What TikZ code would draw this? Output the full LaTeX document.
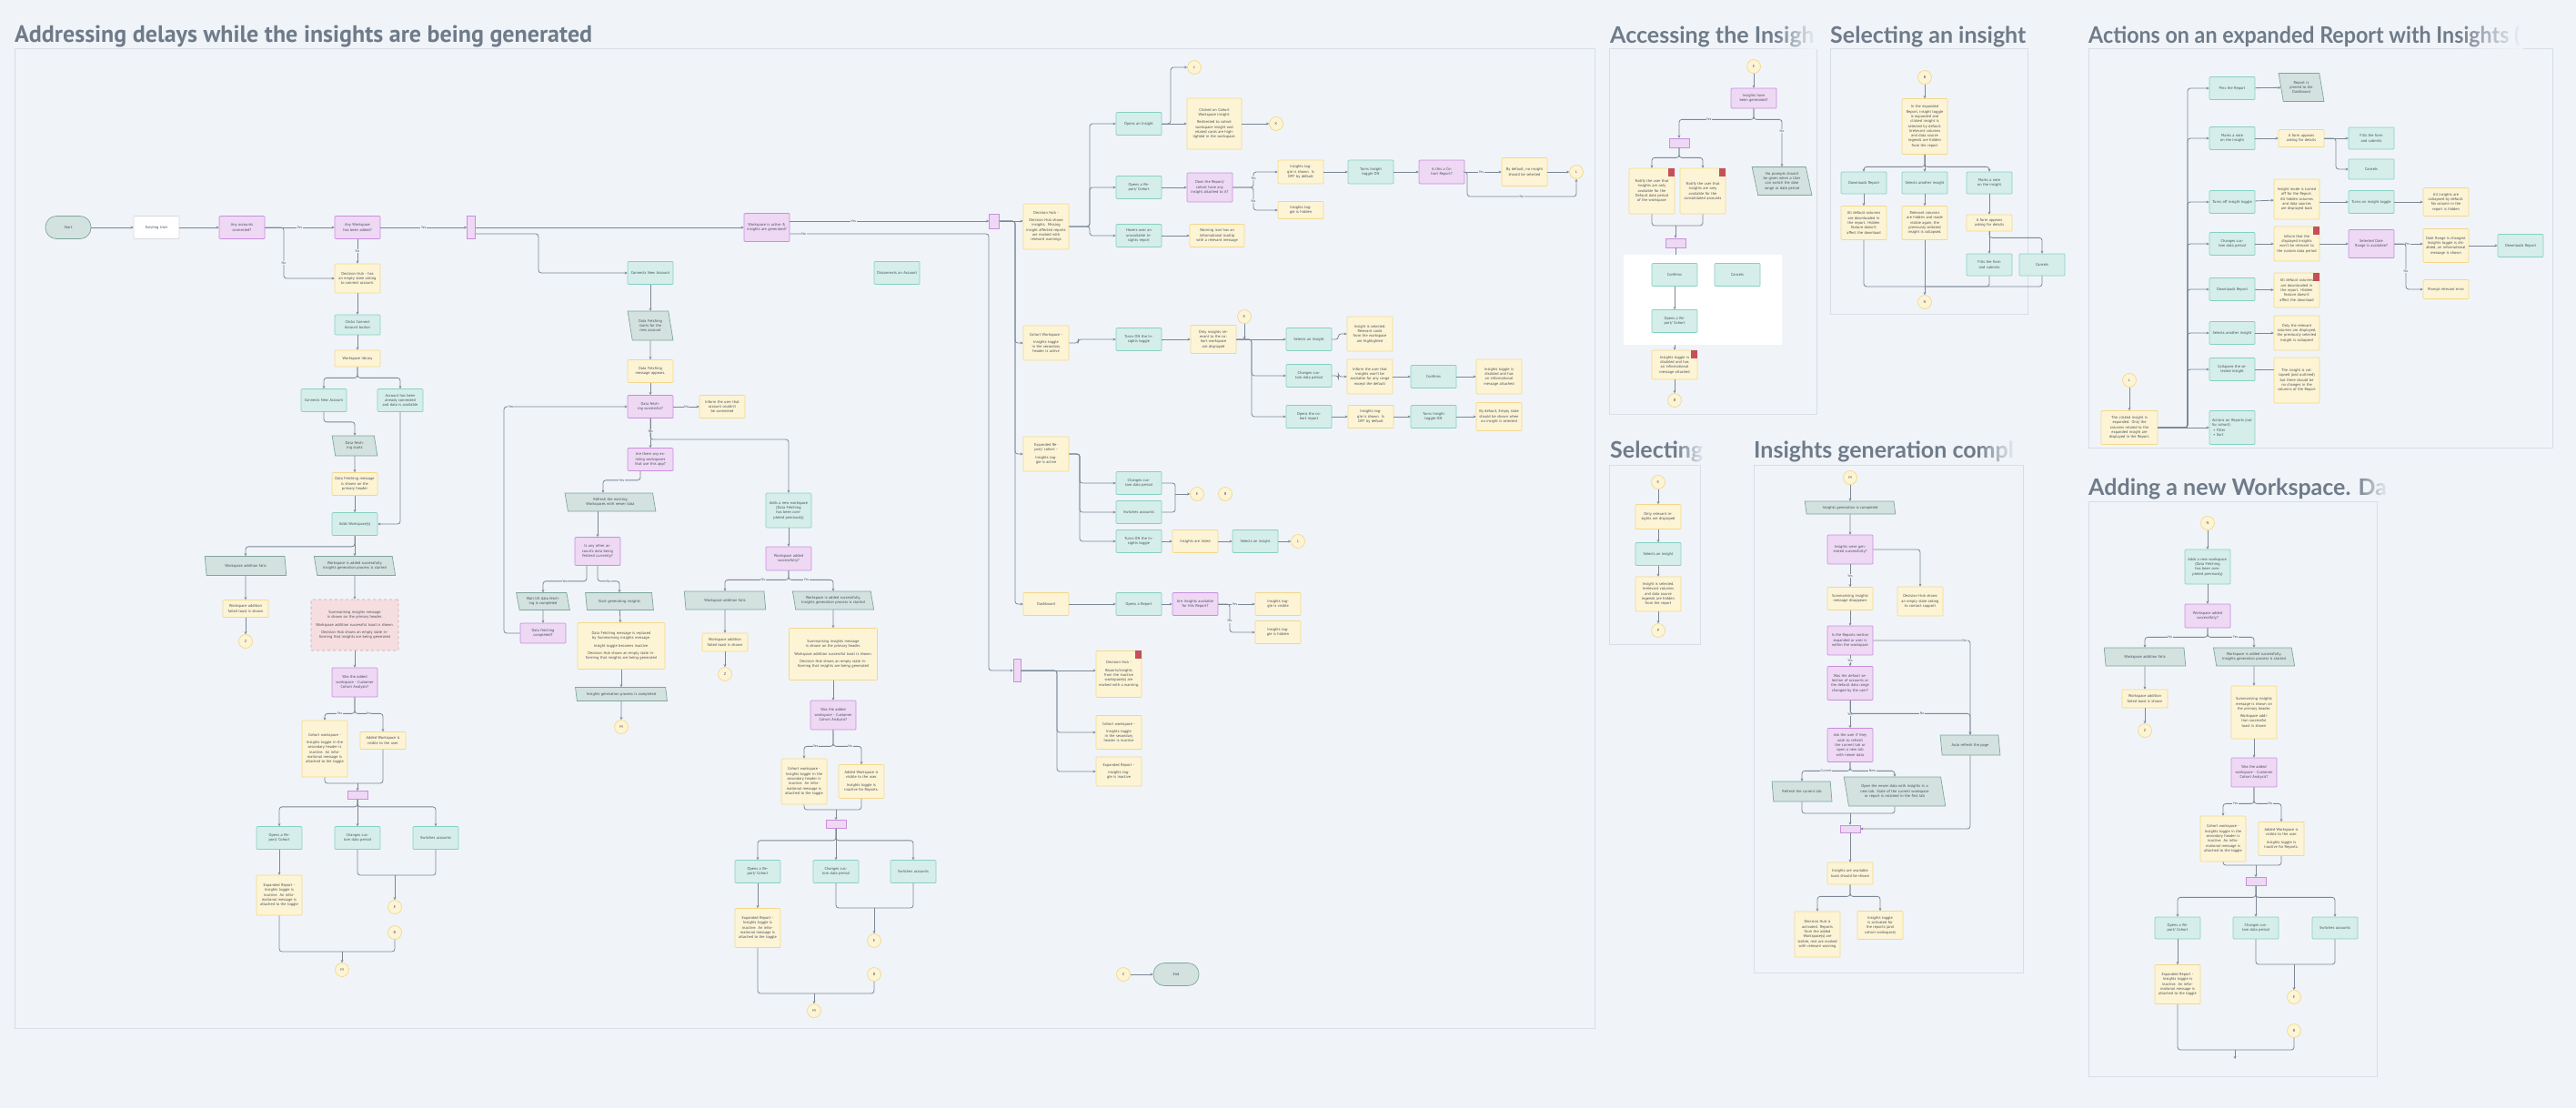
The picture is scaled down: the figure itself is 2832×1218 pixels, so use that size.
\documentclass[tikz,border=0pt]{standalone}
\usepackage{fontspec}
\setmainfont{PT Sans}
\newfontfamily\titlefontA{PT Sans}
\newfontfamily\titlefontB{Lato}
\usepackage{graphicx}
\usetikzlibrary{shapes.geometric, arrows.meta, calc, fadings}
\definecolor{bgc}{HTML}{F0F4F9}
\definecolor{panelb}{HTML}{D9DEE5}
\definecolor{tealf}{HTML}{D5EEEA}
\definecolor{tealb}{HTML}{86D0C3}
\definecolor{yelf}{HTML}{FDF4D5}
\definecolor{yelb}{HTML}{F3D88A}
\definecolor{purf}{HTML}{EED8F4}
\definecolor{purb}{HTML}{C98EDD}
\definecolor{paraf}{HTML}{D3E1DF}
\definecolor{parab}{HTML}{7DA79F}
\definecolor{pinkf}{HTML}{F6DDDF}
\definecolor{pinkb}{HTML}{D99CA3}
\definecolor{edgec}{HTML}{7B8794}
\definecolor{txtc}{HTML}{47505B}
\definecolor{titlec}{HTML}{6F7B89}
\definecolor{redm}{HTML}{C4505C}
\definecolor{graylb}{HTML}{D5DAE0}
\newcommand{\nodefnt}{\fontsize{4.3}{5.3}\selectfont}
\newcommand{\lblfnt}{\fontsize{3.8}{4.2}\selectfont}
\newcommand{\redmark}[1]{\fill[redm] ($(#1.north east)+(-7,0)$) rectangle ++(7,9);}
\tikzset{
 base/.style={draw, line width=0.7pt, rounded corners=1pt, align=center, text width=44pt, inner xsep=3pt, inner ysep=1.5pt, minimum height=25pt, font=\nodefnt, text=txtc},
 tb/.style={base, fill=tealf, draw=tealb},
 yb/.style={base, fill=yelf, draw=yelb},
 pb/.style={base, fill=purf, draw=purb},
 wb/.style={base, fill=white, draw=graylb},
 pk/.style={base, fill=pinkf, draw=pinkb, dashed},
 term/.style={base, fill=paraf, draw=parab, rounded corners=12pt},
 para/.style={draw=parab, fill=paraf, line width=0.7pt, trapezium, trapezium left angle=105, trapezium right angle=75, trapezium stretches=true, align=center, font=\nodefnt, text=txtc, minimum width=50pt, minimum height=22pt, inner xsep=1pt, inner ysep=1pt, text width=34pt},
 circ/.style={circle, draw=yelb, fill=yelf, line width=0.7pt, minimum size=15pt, inner sep=0pt, font=\nodefnt, text=txtc},
 bar/.style={draw=purb, fill=purf, line width=0.7pt, inner sep=0pt, minimum width=22pt, minimum height=9pt},
 vbar/.style={bar, minimum width=9pt, minimum height=25pt},
 ar/.style={draw=edgec, line width=0.8pt, rounded corners=3pt, -{Stealth[length=3pt,width=3pt]}},
 ln/.style={draw=edgec, line width=0.8pt, rounded corners=3pt},
 lb/.style={font=\lblfnt, text=txtc, fill=bgc, inner sep=0.6pt, rounded corners=0pt},
 hh/.style={minimum height=#1pt},
 panel/.style={draw=panelb, line width=1pt, fill=bgc},
 ttlA/.style={anchor=base west, inner sep=0pt, text=titlec, font=\titlefontA\bfseries\fontsize{26}{28}\selectfont},
 ttlB/.style={anchor=base west, inner sep=0pt, text=titlec, font=\titlefontB\bfseries\fontsize{25}{28}\selectfont},
}
\begin{document}
\begin{tikzpicture}[x=1pt, y=-1pt]
\useasboundingbox (0,0) rectangle (2832,1218);
\fill[bgc] (0,0) rectangle (2832,1218);
% ---------------- panels & titles
\draw[panel] (16,53) rectangle (1753,1130);
\draw[panel] (1769,53) rectangle (1997,455);
\draw[panel] (2012,53) rectangle (2229,345);
\draw[panel] (2296,53) rectangle (2806,492);
\draw[panel] (1769,511) rectangle (1869,708);
\draw[panel] (1928,511) rectangle (2224,1069);
\draw[panel] (2296,551) rectangle (2613,1183);
\node[ttlA] (t1) at (16,46) {Addressing delays while the insights are being generated};
\node[ttlB] (t2) at (1770,47) {Accessing the Insigh};
\node[ttlB] (t3) at (2012,47) {Selecting an insight};
\node[ttlB] (t4) at (2296,47) {\scalebox{0.93}[1]{Actions on an expanded Report with Insights (}};
\node[ttlB] (t5) at (1770,503) {Selecting};
\node[ttlB] (t6) at (1928,503) {Insights generation compl};
\node[ttlB] (t7) at (2296,544) {Adding a new Workspace. Da};
\foreach \t/\w in {t2/45,t4/70,t5/30,t6/40,t7/35}{
  \fill[bgc, path fading=west] ($(\t.north east)+(-\w,-2)$) rectangle ($(\t.south east)+(3,2)$);
}
% ---------------- main: left column
\node[term] (a1) at (75,250) {Start};
\node[wb] (a2) at (172,250) {Existing User};
\node[pb] (a3) at (266,250) {Any accounts connected?};
\node[pb] (a4) at (393,250) {Any Workspace has been added?};
\node[yb,hh=32] (a5) at (393,306) {Decision Hub - has an empty state asking to connect account.};
\node[tb,hh=22] (a6) at (393,357) {Clicks Connect Account button};
\node[yb,hh=18] (a7) at (393,394) {Workspace library};
\node[tb] (a8) at (356,440) {Connects New Account};
\node[tb] (a9) at (440,440) {Account has been already connected and data is available};
\node[para] (a10) at (390,490) {Data fetching starts};
\node[yb] (a11) at (390,532) {Data Fetching message is shown on the primary header};
\node[tb] (a12) at (390,576) {Adds Workspace(s)};
\node[para, minimum width=90pt, text width=72pt, hh=21] (a13) at (270,622) {Workspace addition fails};
\node[para, minimum width=90pt, text width=72pt, hh=21] (a14) at (390,622) {Workspace is added successfully. Insights generation process is started};
\node[yb,hh=19] (a15) at (270,669) {Workspace addition failed toast is shown};
\node[circ] (a16) at (270,705) {Z};
\node[pk, text width=90pt, hh=56] (a17) at (390,687) {Summarising insights message is shown on the primary header.\\[3pt] Workspace addition successful toast is shown.\\[3pt] Decision Hub shows an empty state informing that insights are being generated};
\node[pb,hh=32] (a18) at (390,750) {Was the added workspace - Customer Cohort Analysis?};
\node[yb,hh=62] (a19) at (357,823) {Cohort workspace -\\[3pt] Insights toggle in the secondary header is inactive. An informational message is attached to the toggle};
\node[yb,hh=19] (a20) at (421,814) {Added Workspace is visible to the user.};
\node[bar] (a21) at (393,874) {};
\node[tb] (a22) at (307,921) {Opens a Report/ Cohort};
\node[tb] (a23) at (393,921) {Changes custom data period};
\node[tb] (a24) at (479,921) {Switches accounts};
\node[yb,hh=44] (a25) at (307,984) {Expanded Report - Insights toggle is inactive. An informational message is attached to the toggle};
\node[circ] (a26) at (434,997) {E};
\node[circ] (a27) at (434,1025) {B};
\node[circ] (a28) at (376,1066) {M};
\node[vbar] (bar1) at (518,250) {};
\draw[ar] (a1) -- (a2);
\draw[ar] (a2) -- (a3);
\draw[ar] (a3) -- node[lb]{Yes} (a4);
\draw[ar] (a3.east) -- (312,250) |- node[lb,pos=0.35]{No} (a5.west);
\draw[ar] (a4) -- node[lb]{No} (a5);
\draw[ar] (a4) -- node[lb,pos=0.5]{Yes} (bar1);
\draw[ar] (a5) -- (a6);
\draw[ar] (a6) -- (a7);
\draw[ar] (a7.south) -- ++(0,12) -| (a8.north);
\draw[ar] (a7.south) -- ++(0,12) -| (a9.north);
\draw[ar] (a8.south) -- ++(0,11) -| (a10.north);
\draw[ar] (a10) -- (a11);
\draw[ar] (a11) -- (a12);
\draw[ar] (a9.south) |- (a12.east);
\draw[ar] (a12.south) -- ++(0,12) -| (a13.north);
\draw[ar] (a12) -- (a14);
\draw[ar] (a13) -- (a15);
\draw[ar] (a15) -- (a16);
\draw[ar] (a14) -- (a17);
\draw[ar] (a17) -- (a18);
\draw[ar] (a18.south) -- ++(0,18) -| node[lb,pos=0.25]{Yes} (a19.north);
\draw[ar] (a18.south) -- ++(0,18) -| node[lb,pos=0.25]{No} (a20.north);
\coordinate (m1) at (393,861);
\draw[ln] (a19.south) |- (m1);
\draw[ln] (a20.south) |- (m1);
\draw[ar] (m1) -- (a21.north);
\draw[ar] (a21.south) -- ++(0,8) -| (a22.north);
\draw[ar] (a21.south) -- (a23.north);
\draw[ar] (a21.south) -- ++(0,8) -| (a24.north);
\draw[ar] (a22) -- (a25);
\coordinate (m2) at (434,962);
\draw[ln] (a23.south) |- (m2);
\draw[ln] (a24.south) |- (m2);
\draw[ar] (m2) -- (a26.north);
\coordinate (m3) at (376,1046);
\draw[ln] (a25.south) |- (m3);
\draw[ln] (a27.south) |- (m3);
\draw[ar] (m3) -- (a28.north);
% ---------------- main: middle column
\node[tb] (b1) at (715,300) {Connects New Account};
\node[para, hh=32, text width=30pt] (b2) at (715,358) {Data Fetching starts for the new account};
\node[yb] (b3) at (715,408) {Data Fetching message appears.};
\node[pb] (b4) at (715,447) {Data fetching successful?};
\node[yb] (b5) at (794,447) {Inform the user that account couldn't be connected};
\node[pb] (b6) at (715,505) {Are there any existing workspaces that use this app?};
\node[tb,hh=38] (b7) at (867,561) {Adds a new workspace (Data Fetching has been completed previously)};
\node[para, minimum width=100pt, text width=82pt, hh=20] (b8) at (671,552) {Refresh the existing Workspaces with newer data};
\node[pb,hh=31] (b9) at (657,606) {Is any other account's data being fetched currently?};
\node[para, minimum width=59pt, text width=42pt, hh=19] (b10) at (597,661) {Wait till data fetching is completed};
\node[para, minimum width=75pt, text width=58pt, hh=19] (b11) at (681,661) {Start generating insights};
\node[pb,hh=22] (b12) at (597,696) {Data fetching completed?};
\node[yb, text width=90pt, hh=51] (b13) at (683,710) {Data Fetching message is replaced by Summarising insights message.\\[3pt] Insight toggle becomes inactive.\\[3pt] Decision Hub shows an empty state informing that insights are being generated};
\node[para, minimum width=101pt, text width=84pt, hh=15] (b14) at (683,763) {Insights generation process is completed};
\node[circ] (b15) at (683,799) {M};
\node[pb,hh=26] (b16) at (867,614) {Workspace added successfully?};
\node[para, minimum width=90pt, text width=72pt, hh=20] (b17) at (797,660) {Workspace addition fails};
\node[para, minimum width=90pt, text width=72pt, hh=20] (b18) at (916,660) {Workspace is added successfully. Insights generation process is started};
\node[yb,hh=20] (b19) at (797,706) {Workspace addition failed toast is shown};
\node[circ] (b20) at (797,741) {Z};
\node[yb, text width=91pt, hh=57] (b21) at (916,719) {Summarising insights message is shown on the primary header.\\[3pt] Workspace addition successful toast is shown.\\[3pt] Decision Hub shows an empty state informing that insights are being generated};
\node[pb,hh=32] (b22) at (916,786) {Was the added workspace - Customer Cohort Analysis?};
\node[yb,hh=50] (b23) at (884,859) {Cohort workspace - Insights toggle in the secondary header is inactive. An informational message is attached to the toggle};
\node[yb,hh=37] (b24) at (947,859) {Added Workspace is visible to the user.\\[3pt] Insights toggle is inactive for Reports.};
\node[bar] (b25) at (919,906) {};
\node[tb] (b26) at (833,958) {Opens a Report/ Cohort};
\node[tb] (b27) at (919,958) {Changes custom data period};
\node[tb] (b28) at (1004,958) {Switches accounts};
\node[yb,hh=43] (b29) at (833,1020) {Expanded Report - Insights toggle is inactive. An informational message is attached to the toggle};
\node[circ] (b30) at (961,1034) {E};
\node[circ] (b31) at (961,1071) {B};
\node[circ] (b32) at (895,1111) {M};
\node[tb] (disc) at (986,300) {Disconnects an Account};
\node[pb,hh=31] (wsact) at (843,250) {Workspace is active \& insights are generated?};
\draw[ar] (bar1) -- (wsact);
\draw[ar] ($(bar1.east)+(0,7)$) -- (592,257) |- (b1.west);
\draw[ar] (b1) -- (b2);
\draw[ar] (b2) -- (b3);
\draw[ar] (b3) -- (b4);
\draw[ar] (b4) -- node[lb]{No} (b5);
\draw[ar] (b4) -- node[lb,pos=0.45]{Yes} (b6);
\draw[ar] (b4.south) -- (715,483) -| (b7.north);
\draw[ar] ($(b6.south)+(-11,0)$) -- ++(0,10) -| node[lb,pos=0.25]{Yes} ($(b8.north)+(-8,0)$);
\draw[ar] (b8.south -| b9.north) -- (b9.north);
\draw[ar] ($(b9.south)+(-12,0)$) -- ++(0,17) -| node[lb,pos=0.25]{Yes} (b10.north);
\draw[ar] (b9.south) -- ++(0,17) -| node[lb,pos=0.25]{No} (b11.north);
\draw[ar] (b10) -- (b12);
\draw[ar] (b12.west) -- (554,696) |- node[lb,pos=0.53]{Yes} (b4.west);
\draw[ar] (b11) -- (b13);
\draw[ar] (b13) -- (b14);
\draw[ar] (b14) -- (b15);
\draw[ar] (b7) -- (b16);
\draw[ar] (b16.south) -- ++(0,10) -| node[lb,pos=0.2]{No} (b17.north);
\draw[ar] (b16.south) -- ++(0,10) -| node[lb,pos=0.2]{Yes} (b18.north);
\draw[ar] (b17) -- (b19);
\draw[ar] (b19) -- (b20);
\draw[ar] (b18) -- (b21);
\draw[ar] (b21) -- (b22);
\draw[ar] (b22.south) -- ++(0,18) -| node[lb,pos=0.3]{Yes} (b23.north);
\draw[ar] (b22.south) -- ++(0,18) -| node[lb,pos=0.3]{No} (b24.north);
\coordinate (m4) at (919,890);
\draw[ln] (b23.south) |- (m4);
\draw[ln] (b24.south) |- (m4);
\draw[ar] (m4) -- (b25.north);
\draw[ar] (b25.south) -- ++(0,13) -| (b26.north);
\draw[ar] (b25.south) -- (b27.north);
\draw[ar] (b25.south) -- ++(0,13) -| (b28.north);
\draw[ar] (b26) -- (b29);
\coordinate (m5) at (961,998);
\draw[ln] (b27.south) |- (m5);
\draw[ln] (b28.south) |- (m5);
\draw[ar] (m5) -- (b30.north);
\coordinate (m6) at (895,1092);
\draw[ln] (b29.south) |- (m6);
\draw[ln] (b31.south) |- (m6);
\draw[ar] (m6) -- (b32.north);
% ---------------- main: right part
\node[vbar, minimum width=11pt, minimum height=16pt] (barR) at (1093,243) {};
\node[vbar, minimum width=8pt] (barB) at (1118,737) {};
\node[yb,hh=50] (c1) at (1150,249) {Decision Hub -\\[3pt] Decision Hub shows insights. Missing insight affected reports are marked with relevant warnings};
\node[tb] (c2) at (1252,136) {Opens an Insight};
\node[yb, text width=54pt, hh=56] (c3) at (1335,136) {Clicked on Cohort Workspace insight-\\[3pt] Redirected to cohort workspace insight and related cards are highlighted in the workspace.};
\node[circ] (c4) at (1313,74) {L};
\node[circ] (c5) at (1403,136) {K};
\node[tb] (c6) at (1252,206) {Opens a Report/ Cohort};
\node[pb,hh=32] (c7) at (1330,206) {Does the Report/ cohort have any insight attached to it?};
\node[yb,hh=26] (c8) at (1430,189) {Insights toggle is shown. Is OFF by default};
\node[yb,hh=19] (c9) at (1430,231) {Insights toggle is hidden};
\node[tb,hh=26] (c10) at (1507,189) {Turns Insight toggle ON};
\node[pb,hh=26] (c11) at (1585,189) {Is this a Cohort Report?};
\node[yb,hh=31] (c12) at (1676,189) {By default, no insight should be selected};
\node[circ] (c13) at (1733,189) {L};
\node[tb] (c14) at (1252,259) {Hovers over an unavailable Insights report};
\node[yb, text width=54pt] (c15) at (1338,259) {Warning icon has an informational tooltip with a relevant message};
\draw[ar] ($(wsact.east)+(0,-7)$) -- node[lb,pos=0.32]{Yes} (barR.west);
\draw[ar] ($(wsact.east)+(0,7)$) -- node[lb,pos=0.07]{No} (1087,257) |- (barB.west);
\draw[ar] (barR.east) -- (barR.east -| c1.west);
\draw[ar] (c1.east) -- (1198,249) |- (c2.west);
\draw[ar] (c1.east) -- (1198,249) |- (c6.west);
\draw[ar] (c1.east) -- (1198,249) |- (c14.west);
\draw[ar] (c2) -- (c3);
\draw[ar] (c2.east) -- (1287,136) |- (c4.west);
\draw[ar] (c3) -- (c5);
\draw[ar] (c6) -- (c7);
\draw[ar] (c7.east) -- (1378,206) |- node[lb,pos=0.3]{Yes} (c8.west);
\draw[ar] (c7.east) -- (1378,206) |- node[lb,pos=0.3]{No} (c9.west);
\draw[ar] (c8) -- (c10);
\draw[ar] (c10) -- (c11);
\draw[ar] (c11) -- node[lb,pos=0.45]{Yes} (c12);
\draw[ar] (c12) -- (c13);
\draw[ar] (c11.east) -- (1613,189) |- node[lb,pos=0.75]{No} (1733,216) -- (c13.south);
\draw[ar] (c14) -- (c15);
% cohort workspace row
\node[yb,hh=38] (d1) at (1150,377) {Cohort Workspace -\\[3pt] Insights toggle in the secondary header is active};
\node[tb] (d2) at (1252,373) {Turns ON the Insights toggle};
\node[yb,hh=31] (d3) at (1334,373) {Only insights relevant to the cohort workspace are displayed};
\node[circ] (d4) at (1368,348) {K};
\node[tb] (d5) at (1439,373) {Selects an Insight};
\node[tb] (d6) at (1439,413) {Changes custom data period};
\node[tb] (d7) at (1439,458) {Opens the cohort report};
\node[yb,hh=38] (d8) at (1506,367) {Insight is selected. Relevant cards from the workspace are highlighted};
\node[yb,hh=38] (d9) at (1506,414) {Inform the user that insights won't be available for any range except the default};
\node[tb] (d10) at (1576,414) {Confirms};
\node[yb,hh=38] (d11) at (1648,414) {Insights toggle is disabled and has an informational message attached};
\node[yb] (d12) at (1507,458) {Insights toggle is shown. Is OFF by default};
\node[tb] (d13) at (1576,458) {Turns Insight toggle ON};
\node[yb,hh=31] (d14) at (1648,458) {By default, Empty state should be shown when no insight is selected};
\draw[ar] (barR.east) -- (1116,243) |- (d1.west);
\draw[ar] (d1.east) -- ++(10,0) |- (d2.west);
\draw[ar] (d2) -- (d3);
\draw[ar] (d3) -- (d5);
\draw[ar] (d4) -- (d4 |- d5.west);
\draw[ar] (d3.east) -- (1376,373) |- (d6.west);
\draw[ar] (d3.east) -- (1376,373) |- (d7.west);
\draw[ar] (d5.east) -- ++(7,0) |- (d8.west);
\draw[ar] (d6.east) -- ++(7,0) |- (d9.west);
\draw[ar] (d9) -- (d10);
\draw[ar] (d10) -- (d11);
\draw[ar] (d7) -- (d12);
\draw[ar] (d12) -- (d13);
\draw[ar] (d13) -- (d14);
% expanded report row
\node[yb,hh=38] (e1) at (1150,499) {Expanded Report/ cohort -\\[3pt] Insights toggle is active};
\node[tb] (e2) at (1252,531) {Changes custom data period};
\node[tb] (e3) at (1252,563) {Switches accounts};
\node[tb] (e4) at (1252,595) {Turns ON the Insights toggle};
\node[circ] (e5) at (1316,543) {E};
\node[circ] (e6) at (1347,543) {B};
\node[yb] (e7) at (1314,595) {Insights are listed};
\node[tb] (e8) at (1380,595) {Selects an insight};
\node[circ] (e9) at (1427,595) {L};
\draw[ar] (barR.east) -- (1116,243) |- (e1.west);
\draw[ar] (e1.east) -- (1187,499) |- (e2.west);
\draw[ar] (e1.east) -- (1187,499) |- (e3.west);
\draw[ar] (e1.east) -- (1187,499) |- (e4.west);
\coordinate (m7) at (1292,543);
\draw[ln] (e2.east) -| (m7);
\draw[ln] (e3.east) -| (m7);
\draw[ar] (m7) -- (e5.west);
\draw[ar] (e4) -- (e7);
\draw[ar] (e7) -- (e8);
\draw[ar] (e8) -- (e9);
% dashboard row
\node[yb] (f1) at (1150,664) {Dashboard};
\node[tb] (f2) at (1252,664) {Opens a Report};
\node[pb] (f3) at (1314,664) {Are Insights available for this Report?};
\node[yb] (f4) at (1405,664) {Insights toggle is visible};
\node[yb] (f5) at (1405,695) {Insights toggle is hidden};
\draw[ar] (barR.east) -- (1116,243) |- (f1.west);
\draw[ar] (f1) -- (f2);
\draw[ar] (f2) -- (f3);
\draw[ar] (f3) -- node[lb,pos=0.45]{Yes} (f4);
\draw[ar] (f3.east) -- (1352,664) |- node[lb,pos=0.3]{No} (f5.west);
% inactive workspace branch
\node[yb,hh=51] (g1) at (1230,741) {Decision Hub -\\[3pt] Reports/insights from the inactive workspace(s) are marked with a warning.};
\node[yb,hh=37] (g2) at (1230,805) {Cohort workspace -\\[3pt] Insights toggle in the secondary header is inactive};
\node[yb,hh=32] (g3) at (1230,848) {Expanded Report -\\[3pt] Insights toggle is inactive};
\node[circ] (g4) at (1235,1071) {Z};
\node[term] (g5) at (1293,1071) {End};
\redmark{g1}
\draw[ar] (barB.east) -- (barB.east -| g1.west);
\draw[ar] (barB.east) -- (1162,737) |- (g2.west);
\draw[ar] (barB.east) -- (1162,737) |- (g3.west);
\draw[ar] (g4) -- (g5);
% ---------------- Accessing the insights
\node[fill=white, minimum width=174pt, minimum height=99pt, inner sep=0pt, anchor=north west] (wreg) at (1785,280) {};
\node[circ] (h1) at (1928,73) {E};
\node[pb,hh=22] (h2) at (1928,108) {Insights have been generated?};
\node[bar,minimum height=10pt] (h3) at (1846,157) {};
\node[para, minimum width=66pt, text width=44pt, hh=31] (h4) at (1959,199) {No prompts should be given when a User can switch the date range or date period};
\node[yb,hh=50] (h5) at (1816,210) {Notify the user that insights are only available for the Default date period of the workspace};
\node[yb,hh=50] (h6) at (1872,210) {Notify the user that insights are only available for the consolidated accounts};
\node[bar,minimum height=10pt] (h7) at (1842,267) {};
\node[tb] (h8) at (1841,302) {Confirms};
\node[tb] (h9) at (1910,302) {Cancels};
\node[tb] (h10) at (1841,353) {Opens a Report/ Cohort};
\node[yb,hh=32] (h11) at (1841,401) {Insights toggle is disabled and has an informational message attached};
\node[circ] (h12) at (1841,440) {B};
\redmark{h5}\redmark{h6}\redmark{h11}
\draw[ar] (h1) -- (h2);
\draw[ar] (h2.south) -- ++(0,12) -| node[lb,pos=0.3]{Yes} (h3.north);
\draw[ar] (h2.south) -- ++(0,12) -| node[lb,pos=0.62]{No} (h4.north);
\draw[ar] (h3.south) -- ++(0,11) -| (h5.north);
\draw[ar] (h3.south) -- ++(0,11) -| (h6.north);
\coordinate (m8) at (1842,248);
\draw[ln] (h5.south) |- (m8);
\draw[ln] (h6.south) |- (m8);
\draw[ar] (m8) -- (h7.north);
\draw[ln] (h7.south) -- (h7.south |- wreg.north);
\draw[ar] (h8) -- (h10);
\draw[ar] (h11.north |- wreg.south) -- (h11.north);
\draw[ar] (h11) -- (h12);
% ---------------- Selecting an insight
\node[circ] (i1) at (2116,85) {B};
\node[yb,hh=61] (i2) at (2116,139) {In the expanded Report, insight toggle is expanded and clicked insight is selected by default. Irrelevant columns and data source legends are hidden from the report};
\node[tb,hh=24] (i3) at (2049,201) {Downloads Report};
\node[tb,hh=24] (i4) at (2116,201) {Selects another insight};
\node[tb,hh=24] (i5) at (2187,201) {Marks a note on the insight};
\node[yb,hh=37] (i6) at (2049,245) {All default columns are downloaded in the report. Hidden feature doesn't affect the download};
\node[yb,hh=37] (i7) at (2116,245) {Relevant columns are hidden and made visible again, the previously selected insight is collapsed.};
\node[yb,hh=18] (i8) at (2187,245) {A form appears asking for details};
\node[tb,hh=24] (i9) at (2187,291) {Fills the form and submits};
\node[tb,hh=24] (i10) at (2245,291) {Cancels};
\node[circ] (i11) at (2116,332) {N};
\draw[ar] (i1) -- (i2);
\draw[ar] (i2.south) -- ++(0,13.5) -| (i3.north);
\draw[ar] (i2) -- (i4);
\draw[ar] (i2.south) -- ++(0,13.5) -| (i5.north);
\draw[ar] (i3) -- (i6);
\draw[ar] (i4) -- (i7);
\draw[ar] (i5) -- (i8);
\draw[ar] (i8) -- (i9);
\draw[ar] (i8.south) -- ++(0,7) -| (i10.north);
\coordinate (m9) at (2116,315);
\draw[ln] (i6.south) |- (m9);
\draw[ln] (i9.south) |- (m9);
\draw[ln] (i10.south) |- (m9);
\draw[ar] (i7) -- (i11);
% ---------------- Actions on an expanded report
\node[circ] (j0) at (2341,418) {L};
\node[yb, text width=56pt, hh=37] (j1) at (2341,470) {The clicked insight is expanded. Only the columns related to the expanded insight are displayed in the Report.};
\node[tb] (j2) at (2454,97) {Pins the Report};
\node[tb] (j3) at (2454,152) {Marks a note on the insight};
\node[tb] (j4) at (2454,222) {Turns off insight toggle};
\node[tb] (j5) at (2454,268) {Changes custom data period};
\node[tb] (j6) at (2454,318) {Downloads Report};
\node[tb] (j7) at (2454,366) {Selects another insight};
\node[tb] (j8) at (2454,406) {Collapses the selected insight};
\node[tb,hh=37,align=left] (j9) at (2454,470) {Actions on Reports (not for cohort):\\ \ \textbullet\ Filter\\ \ \textbullet\ Sort};
\node[para, hh=31, text width=30pt] (j10) at (2530,96) {Report is pinned to the Dashboard};
\node[yb,hh=19] (j11) at (2530,152) {A form appears asking for details};
\node[tb,hh=24] (j12) at (2607,152) {Fills the form and submits};
\node[tb,hh=22] (j13) at (2607,186) {Cancels};
\node[yb,hh=44] (j14) at (2525,219) {Insight mode is turned off for the Report. All hidden columns and data sources are displayed back};
\node[tb] (j15) at (2607,222) {Turns on insight toggle};
\node[yb,hh=31] (j16) at (2689,222) {All insights are collapsed by default. No column in the report is hidden};
\node[yb,hh=38] (j17) at (2525,268) {Inform that the displayed insights won't be relevant to the custom data period};
\node[pb,hh=31] (j18) at (2607,268) {Selected Date Range is available?};
\node[yb,hh=37] (j19) at (2689,270) {Date Range is changed. Insights toggle is disabled, an informational message is shown};
\node[tb] (j20) at (2771,270) {Downloads Report};
\node[yb,hh=21] (j21) at (2689,318) {Prompt relevant error};
\node[yb,hh=38] (j22) at (2525,319) {All default columns are downloaded in the report. Hidden feature doesn't affect the download};
\node[yb,hh=38] (j23) at (2525,366) {Only the relevant columns are displayed, the previously selected insight is collapsed};
\node[yb,hh=50] (j24) at (2525,418) {The insight is collapsed (and outlined) but there should be no changes in the columns of the Report};
\redmark{j17}\redmark{j22}
\draw[ar] (j0) -- (j1);
\foreach \n in {j2,j3,j4,j5,j6,j7,j8}{\draw[ar] (j1.east) -- (2405,470) |- (\n.west);}
\draw[ar] (j1) -- (j9);
\draw[ar] (j2) -- (j10);
\draw[ar] (j3) -- (j11);
\draw[ar] (j11) -- (j12);
\draw[ar] (j11.east) -- (2568,152) |- (j13.west);
\draw[ar] (j4) -- (j14);
\draw[ar] (j14.east |- j15.west) -- (j15.west);
\draw[ar] (j15) -- (j16);
\draw[ar] (j5) -- (j17);
\draw[ar] (j17) -- (j18);
\draw[ar] (j18.east) -- node[lb,pos=0.45]{Yes} (j19.west |- j18.east);
\draw[ar] (j19) -- (j20);
\draw[ar] (j18.east) -- (2645,268) |- node[lb,pos=0.3]{No} (j21.west);
\draw[ar] (j6) -- (j22);
\draw[ar] (j7) -- (j23);
\draw[ln] (j8.east) -- (j8.east -| j24.west);
% ---------------- Selecting (small)
\node[circ] (k1) at (1823,530) {K};
\node[yb,hh=27] (k2) at (1823,568) {Only relevant insights are displayed};
\node[tb] (k3) at (1823,609) {Selects an insight};
\node[yb,hh=38] (k4) at (1823,653) {Insight is selected. Irrelevant columns and data source legends are hidden from the report};
\node[circ] (k5) at (1823,693) {P};
\draw[ar] (k1) -- (k2);
\draw[ar] (k2) -- (k3);
\draw[ar] (k3) -- (k4);
\draw[ar] (k4) -- (k5);
% ---------------- Insights generation completed
\node[circ] (l1) at (2034,525) {M};
\node[para, minimum width=100pt, text width=80pt, hh=14] (l2) at (2034,558) {Insights generation is completed};
\node[pb,hh=32] (l3) at (2034,604) {Insights were generated successfully?};
\node[yb] (l4) at (2034,658) {Summarising insights message disappears};
\node[yb,hh=32] (l5) at (2111,661) {Decision Hub shows an empty state asking to contact support};
\node[pb,hh=32] (l6) at (2034,704) {Is the Reports section expanded or user is within the workspace};
\node[para, minimum width=66pt, text width=46pt, hh=22] (l7) at (2166,819) {Auto refresh the page};
\node[pb,hh=37] (l8) at (2034,751) {Was the default selection of accounts or the default data range changed by the user?};
\node[pb,hh=37] (l9) at (2034,819) {Ask the user if they wish to refresh the current tab or open a new tab with newer data};
\node[para, minimum width=66pt, text width=46pt, hh=22] (l10) at (1981,870) {Refresh the current tab};
\node[para, minimum width=112pt, text width=84pt, hh=32] (l11) at (2083,870) {Open the newer data with insights in a new tab. State of the current workspace or report is retained in the first tab};
\node[bar,minimum height=8pt] (l12) at (2034,911) {};
\node[yb,hh=24] (l13) at (2034,960) {Insights are available toast should be shown};
\node[yb,hh=50] (l14) at (1998,1027) {Decision Hub is activated. Reports from the added Workspace(s) are visible, rest are marked with relevant warning};
\node[yb,hh=31] (l15) at (2067,1017) {Insights toggle is activated for the reports (and cohort workspace)};
\draw[ar] (l1) -- (l2);
\draw[ar] (l2) -- (l3);
\draw[ar] (l3) -- node[lb]{Yes} (l4);
\draw[ar] (l3.east) -| (l5.north);
\draw[ar] (l4) -- (l6);
\draw[ar] (l6.east) -| node[lb,pos=0.47]{No} (l7.north);
\draw[ar] (l6) -- node[lb]{Yes} (l8);
\draw[ar] (l8) -- node[lb]{Yes} (l9);
\draw[ar] (l8.south) -- ++(0,14.5) -| node[lb,pos=0.3]{No} (l7.north);
\draw[ar] (l9.south) -- ++(0,9.5) -| node[lb,pos=0.25]{Current} (l10.north);
\draw[ar] (l9.south) -- ++(0,9.5) -| node[lb,pos=0.25]{New} (l11.north);
\coordinate (m10) at (2034,894);
\draw[ln] (l10.south) |- (m10);
\draw[ln] (l11.south) |- (m10);
\draw[ar] (m10) -- (l12.north);
\draw[ar] (l7.south) |- (l12.east);
\draw[ar] (l12) -- (l13);
\draw[ar] (l13.south) -- ++(0,13) -| (l14.north);
\draw[ar] (l13.south) -- ++(0,13) -| (l15.north);
% ---------------- Adding a new workspace
\node[circ] (n1) at (2427,575) {N};
\node[tb,hh=38] (n2) at (2427,623) {Adds a new workspace. (Data Fetching has been completed previously)};
\node[pb,hh=26] (n3) at (2427,677) {Workspace added successfully?};
\node[para, minimum width=90pt, text width=72pt, hh=20] (n4) at (2358,722) {Workspace addition fails};
\node[para, minimum width=90pt, text width=72pt, hh=20] (n5) at (2478,722) {Workspace is added successfully. Insights generation process is started};
\node[yb,hh=20] (n6) at (2358,768) {Workspace addition failed toast is shown};
\node[circ] (n7) at (2358,803) {Z};
\node[yb,hh=58] (n8) at (2478,783) {Summarising insights message is shown on the primary header.\\[3pt] Workspace addition successful toast is shown};
\node[pb,hh=32] (n9) at (2478,849) {Was the added workspace - Customer Cohort Analysis?};
\node[yb,hh=50] (n10) at (2444,922) {Cohort workspace - Insights toggle in the secondary header is inactive. An informational message is attached to the toggle};
\node[yb,hh=37] (n11) at (2508,922) {Added Workspace is visible to the user.\\[3pt] Insights toggle is inactive for Reports.};
\node[bar] (n12) at (2480,969) {};
\node[tb,hh=24] (n13) at (2394,1020) {Opens a Report/ Cohort};
\node[tb,hh=24] (n14) at (2480,1020) {Changes custom data period};
\node[tb,hh=24] (n15) at (2567,1020) {Switches accounts};
\node[yb,hh=43] (n16) at (2394,1082) {Expanded Report - Insights toggle is inactive. An informational message is attached to the toggle};
\node[circ] (n17) at (2522,1096) {E};
\node[circ] (n18) at (2522,1133) {B};
\coordinate (nend) at (2457,1164);
\draw[ar] (n1) -- (n2);
\draw[ar] (n2) -- (n3);
\draw[ar] (n3.south) -- ++(0,10) -| node[lb,pos=0.3]{No} (n4.north);
\draw[ar] (n3.south) -- ++(0,10) -| node[lb,pos=0.3]{Yes} (n5.north);
\draw[ar] (n4) -- (n6);
\draw[ar] (n6) -- (n7);
\draw[ar] (n5) -- (n8);
\draw[ar] (n8) -- (n9);
\draw[ar] (n9.south) -- ++(0,18) -| node[lb,pos=0.3]{Yes} (n10.north);
\draw[ar] (n9.south) -- ++(0,18) -| node[lb,pos=0.3]{No} (n11.north);
\coordinate (m11) at (2480,951);
\draw[ln] (n10.south) |- (m11);
\draw[ln] (n11.south) |- (m11);
\draw[ar] (m11) -- (n12.north);
\draw[ar] (n12.south) -- ++(0,12.5) -| (n13.north);
\draw[ar] (n12) -- (n14);
\draw[ar] (n12.south) -- ++(0,12.5) -| (n15.north);
\draw[ar] (n13) -- (n16);
\coordinate (m12) at (2522,1060);
\draw[ln] (n14.south) |- (m12);
\draw[ln] (n15.south) |- (m12);
\draw[ar] (m12) -- (n17.north);
\coordinate (m13) at (2457,1154);
\draw[ln] (n16.south) |- (m13);
\draw[ln] (n18.south) |- (m13);
\draw[ar] (m13) -- (nend);
\end{tikzpicture}
\end{document}
